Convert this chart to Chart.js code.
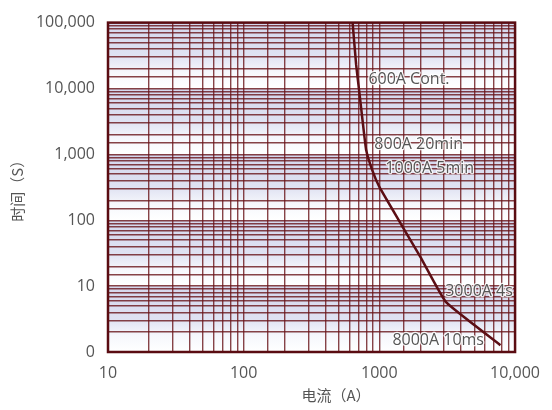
<!DOCTYPE html>
<html>
<head>
<meta charset="utf-8">
<script src="https://cdn.jsdelivr.net/npm/chart.js@4"></script>
<style>
  html, body { margin: 0; padding: 0; background: #fff; }
  #wrap { width: 552px; height: 410px; }
</style>
</head>
<body>
<div id="wrap"><canvas id="chart" width="552" height="410"></canvas></div>
<script>
// fuse curve
const currentA = [635, 674, 713, 754, 800, 890, 1000, 1450, 2000, 3100, 7800];
const timeS = [100000, 23000, 8500, 3100, 1150, 560, 320, 86, 28, 5.7, 1.27];

const xTickValues = [10, 100, 1000, 10000];
const xTickLabels = ['10', '100', '1000', '10,000'];
const yTickValues = [1, 10, 100, 1000, 10000, 100000];
const yTickLabels = ['0', '10', '100', '1,000', '10,000', '100,000'];

const noteTexts = ['600A Cont.', '800A 20min', '1000A 5min', '3000A 4s', '8000A 10ms'];
const noteCurrents = [830, 918, 1107, 3055, 1247];
const noteTimes = [13750, 1418, 607, 8.2, 1.5];

const xTitle = '电流（A）';
const yTitle = '时间（S）';

const gridColor = 'rgba(105, 20, 25, 0.8)';
const textColor = '#555';
const fontFamily = '"Open Sans", "Noto Sans", sans-serif';
const cjkFont = '"Noto Sans CJK SC", sans-serif';

function pickLabel(values, labels) {
  return function (v) {
    for (let i = 0; i < values.length; i++) {
      if (Math.abs(v - values[i]) < values[i] * 1e-6) return labels[i];
    }
    return '';
  };
}

const paperPlugin = {
  id: 'paper',
  beforeDraw(chart) {
    const { ctx, chartArea: a, scales } = chart;
    ctx.save();
    for (let e = 0; e < 5; e++) {
      const top = scales.y.getPixelForValue(Math.pow(10, e + 1));
      const bot = scales.y.getPixelForValue(Math.pow(10, e));
      const g = ctx.createLinearGradient(0, top, 0, bot);
      g.addColorStop(0, '#d4d7ed');
      g.addColorStop(0.5, '#dfe2f2');
      g.addColorStop(0.75, '#f6f7fc');
      g.addColorStop(1, '#ffffff');
      ctx.fillStyle = g;
      ctx.fillRect(a.left, top, a.right - a.left, bot - top);
    }
    ctx.restore();
  },
  afterDraw(chart) {
    const { ctx, chartArea: a, scales } = chart;
    ctx.save();
    // frame
    ctx.strokeStyle = '#5a0c12';
    ctx.lineWidth = 2.5;
    ctx.strokeRect(a.left, a.top, a.right - a.left, a.bottom - a.top);

    // notes along the curve
    ctx.font = '16px ' + fontFamily;
    ctx.textBaseline = 'middle';
    ctx.textAlign = 'left';
    ctx.lineJoin = 'round';
    noteTexts.forEach((t, i) => {
      const x = scales.x.getPixelForValue(noteCurrents[i]);
      const y = scales.y.getPixelForValue(noteTimes[i]);
      ctx.strokeStyle = 'rgba(255,255,255,0.85)';
      ctx.lineWidth = 2.5;
      ctx.strokeText(t, x, y);
      ctx.fillStyle = textColor;
      ctx.fillText(t, x, y);
    });

    // axis titles
    ctx.fillStyle = textColor;
    ctx.font = '15px ' + cjkFont;
    ctx.textAlign = 'center';
    ctx.fillText(xTitle, 336, 395);
    ctx.translate(17, (a.top + a.bottom) / 2);
    ctx.rotate(-Math.PI / 2);
    ctx.font = '15px ' + cjkFont;
    ctx.fillText(yTitle, 0, 0);
    ctx.restore();
  }
};

new Chart(document.getElementById('chart'), {
  type: 'line',
  data: {
    datasets: [{
      data: currentA.map((c, i) => ({ x: c, y: timeS[i] })),
      borderColor: '#5c0e14',
      borderWidth: 2.5,
      pointRadius: 0,
      tension: 0.12,
      fill: false
    }]
  },
  options: {
    responsive: false,
    animation: false,
    layout: { padding: { top: 13, right: 36, left: 0, bottom: 0 } },
    plugins: { legend: { display: false }, tooltip: { enabled: false } },
    scales: {
      x: {
        type: 'logarithmic',
        min: 10,
        max: 10000,
        afterFit(s) { s.height = 58; },
        grid: { color: gridColor, lineWidth: 1.4, drawTicks: false },
        border: { display: false },
        ticks: {
          autoSkip: false,
          maxRotation: 0,
          padding: 12,
          color: textColor,
          font: { size: 16, family: fontFamily },
          callback: pickLabel(xTickValues, xTickLabels)
        }
      },
      y: {
        type: 'logarithmic',
        min: 1,
        max: 100000,
        afterFit(s) { s.width = 108; },
        grid: { color: gridColor, lineWidth: 1.4, drawTicks: false },
        border: { display: false },
        ticks: {
          autoSkip: false,
          padding: 13,
          color: textColor,
          font: { size: 16, family: fontFamily },
          callback: pickLabel(yTickValues, yTickLabels)
        }
      }
    }
  },
  plugins: [paperPlugin]
});
</script>
</body>
</html>
